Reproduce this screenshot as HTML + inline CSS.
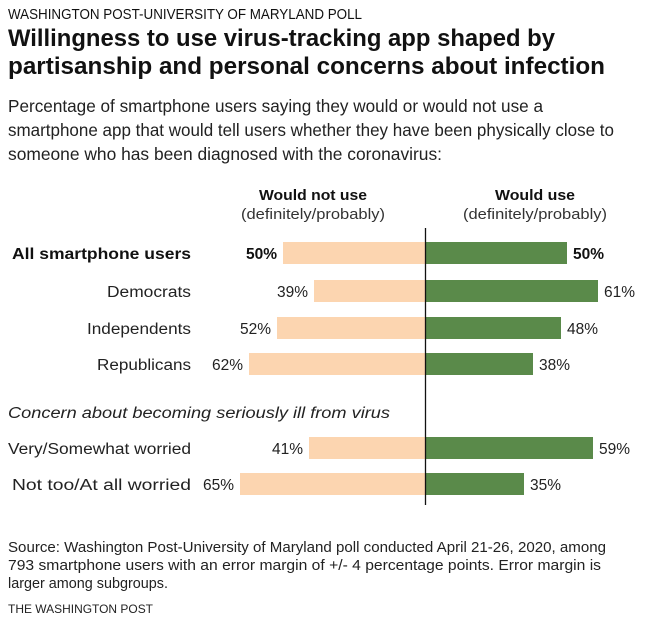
<!DOCTYPE html>
<html><head><meta charset="utf-8"><style>
html,body{margin:0;padding:0;background:#fff;}
svg{display:block;font-family:"Liberation Sans",sans-serif;}
</style></head><body>
<svg width="650" height="626" viewBox="0 0 650 626">
<g fill="#111">
<text x="8" y="19" font-size="15" textLength="354" lengthAdjust="spacingAndGlyphs">WASHINGTON POST-UNIVERSITY OF MARYLAND POLL</text>
<text x="8" y="46" font-size="24" font-weight="bold" textLength="547" lengthAdjust="spacingAndGlyphs">Willingness to use virus-tracking app shaped by</text>
<text x="8" y="74" font-size="24" font-weight="bold" textLength="597" lengthAdjust="spacingAndGlyphs">partisanship and personal concerns about infection</text>
<text x="8" y="112" font-size="17.5" fill="#222" textLength="535" lengthAdjust="spacingAndGlyphs">Percentage of smartphone users saying they would or would not use a</text>
<text x="8" y="136" font-size="17.5" fill="#222" textLength="606" lengthAdjust="spacingAndGlyphs">smartphone app that would tell users whether they have been physically close to</text>
<text x="8" y="160" font-size="17.5" fill="#222" textLength="434" lengthAdjust="spacingAndGlyphs">someone who has been diagnosed with the coronavirus:</text>

<text x="313" y="200" font-size="15" font-weight="bold" text-anchor="middle" textLength="108" lengthAdjust="spacingAndGlyphs">Would not use</text>
<text x="313" y="219" font-size="15" fill="#333" text-anchor="middle" textLength="144" lengthAdjust="spacingAndGlyphs">(definitely/probably)</text>
<text x="535" y="200" font-size="15" font-weight="bold" text-anchor="middle" textLength="80" lengthAdjust="spacingAndGlyphs">Would use</text>
<text x="535" y="219" font-size="15" fill="#333" text-anchor="middle" textLength="144" lengthAdjust="spacingAndGlyphs">(definitely/probably)</text>
</g>

<g fill="#fcd5b0">
<rect x="283" y="242" width="142" height="22"/>
<rect x="314" y="280" width="111" height="22"/>
<rect x="277" y="317" width="148" height="22"/>
<rect x="249" y="353" width="176" height="22"/>
<rect x="309" y="437" width="116" height="22"/>
<rect x="240" y="473" width="185" height="22"/>
</g>
<g fill="#5a8a4a">
<rect x="425" y="242" width="142" height="22"/>
<rect x="425" y="280" width="173" height="22"/>
<rect x="425" y="317" width="136" height="22"/>
<rect x="425" y="353" width="108" height="22"/>
<rect x="425" y="437" width="168" height="22"/>
<rect x="425" y="473" width="99" height="22"/>
</g>
<line x1="425.5" y1="228" x2="425.5" y2="505" stroke="#111" stroke-width="1.3"/>

<g font-size="15.5" fill="#222">
<text x="191" y="259" text-anchor="end" font-weight="bold" fill="#111" textLength="179" lengthAdjust="spacingAndGlyphs">All smartphone users</text>
<text x="191" y="297" text-anchor="end" textLength="84" lengthAdjust="spacingAndGlyphs">Democrats</text>
<text x="191" y="334" text-anchor="end" textLength="104" lengthAdjust="spacingAndGlyphs">Independents</text>
<text x="191" y="370" text-anchor="end" textLength="94" lengthAdjust="spacingAndGlyphs">Republicans</text>
<text x="8" y="418" font-style="italic" textLength="382" lengthAdjust="spacingAndGlyphs">Concern about becoming seriously ill from virus</text>
<text x="191" y="454" text-anchor="end" textLength="183" lengthAdjust="spacingAndGlyphs">Very/Somewhat worried</text>
<text x="191" y="490" text-anchor="end" textLength="179" lengthAdjust="spacingAndGlyphs">Not too/At all worried</text>

<text x="277" y="259" text-anchor="end" font-weight="bold" fill="#111">50%</text>
<text x="308" y="297" text-anchor="end">39%</text>
<text x="271" y="334" text-anchor="end">52%</text>
<text x="243" y="370" text-anchor="end">62%</text>
<text x="303" y="454" text-anchor="end">41%</text>
<text x="234" y="490" text-anchor="end">65%</text>

<text x="573" y="259" font-weight="bold" fill="#111">50%</text>
<text x="604" y="297">61%</text>
<text x="567" y="334">48%</text>
<text x="539" y="370">38%</text>
<text x="599" y="454">59%</text>
<text x="530" y="490">35%</text>
</g>

<g font-size="14.5" fill="#222">
<text x="8" y="552" textLength="598" lengthAdjust="spacingAndGlyphs">Source: Washington Post-University of Maryland poll conducted April 21-26, 2020, among</text>
<text x="8" y="570" textLength="593" lengthAdjust="spacingAndGlyphs">793 smartphone users with an error margin of +/- 4 percentage points. Error margin is</text>
<text x="8" y="588" textLength="160" lengthAdjust="spacingAndGlyphs">larger among subgroups.</text>
<text x="8" y="613" font-size="12" textLength="145" lengthAdjust="spacingAndGlyphs">THE WASHINGTON POST</text>
</g>
</svg>
</body></html>
